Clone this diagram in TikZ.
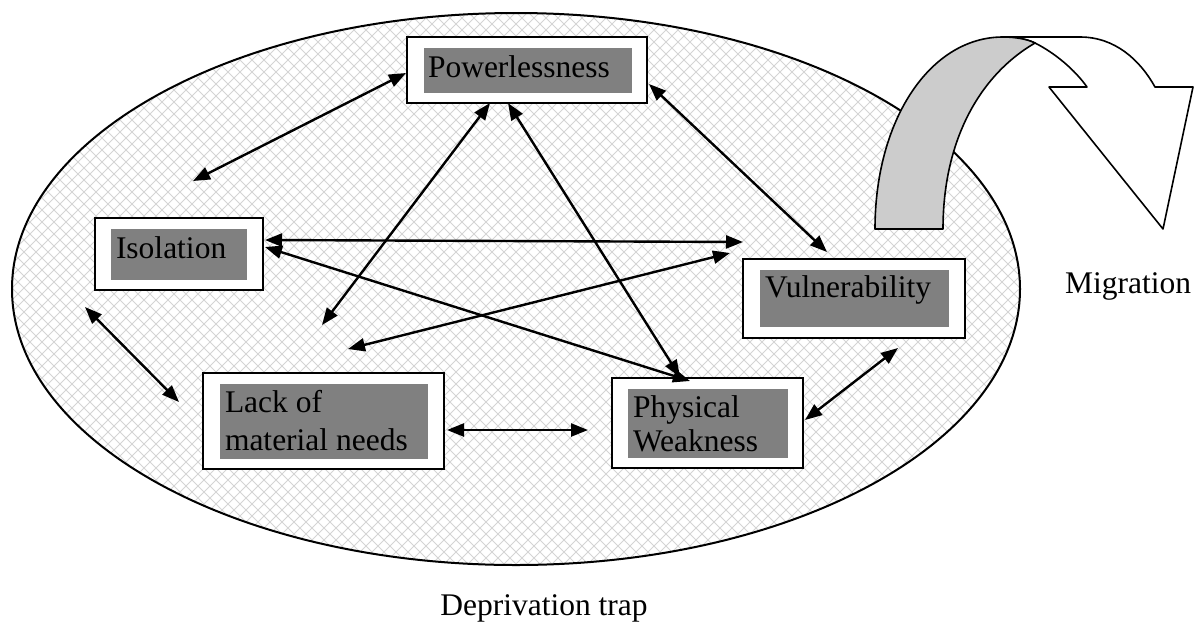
\documentclass[tikz,border=0pt]{standalone}
\usepackage{fontspec}
\setmainfont{Liberation Serif}
\usetikzlibrary{arrows.meta,calc}
\definecolor{boxgray}{HTML}{808080}
\definecolor{hatchgray}{HTML}{D4D4D4}
\definecolor{bandgray}{HTML}{CCCCCC}
\begin{document}
\begin{tikzpicture}[x=1pt,y=-1pt,
  outerbox/.style={draw=black, line width=2.2pt, fill=white, inner sep=0pt},
  graybox/.style={fill=boxgray, draw=none, inner sep=0pt},
  lbl/.style={font=\fontsize{31.5}{36}\selectfont, inner sep=0pt, anchor=base west, align=left},
  captext/.style={font=\fontsize{31.5}{36}\selectfont, inner sep=0pt},
  link/.style={line width=2.4pt, {Triangle[length=17pt,width=13pt]}-{Triangle[length=17pt,width=13pt]}},
  hatch/.style={draw=hatchgray, line width=0.9pt},
  shapeline/.style={draw=black, line width=1.6pt, line join=round}]
\useasboundingbox (0,0) rectangle (1195,622);

% ellipse with cross hatch
\begin{scope}
  \clip (516,289) ellipse [x radius=504, y radius=276];
  \foreach \c in {-600,-588,...,1200} {
    \draw[hatch] (\c,0) -- ++(640,640);
    \draw[hatch] (\c+600,0) -- ++(-640,640);
  }
\end{scope}
\draw[line width=2pt] (516,289) ellipse [x radius=504, y radius=276];

% migration arrow
\path[shapeline, fill=white] (1003,37) -- (1080,37) .. controls (1115,37) and (1140,60) .. (1155,87)
  -- (1193,87) -- (1163,229) -- (1049,87) -- (1087,87)
  .. controls (1075,70) and (1055,53) .. (1035,43)
  .. controls (1027,39) and (1015,37) .. (1003,37) -- cycle;
\path[shapeline, fill=bandgray] (875,229) .. controls (875,120) and (930,37) .. (1003,37)
  .. controls (1015,37) and (1027,39) .. (1035,43)
  .. controls (980,75) and (943,140) .. (943,229) -- cycle;

% boxes
\node[outerbox, minimum width=240pt, minimum height=66pt] (pw) at (527,70) {};
\node[graybox, minimum width=208pt, minimum height=45pt] (pwg) at (528,70.5) {};
\node[lbl] (pwt) at ($(pwg.north west)+(4,30)$) {Powerlessness};

\node[outerbox, minimum width=168pt, minimum height=72pt] (iso) at (179,254) {};
\node[graybox, minimum width=136pt, minimum height=51pt] (isog) at (179,254.5) {};
\node[lbl] (isot) at ($(isog.north west)+(5,30)$) {Isolation};

\node[outerbox, minimum width=222pt, minimum height=79pt] (vul) at (854,298.5) {};
\node[graybox, minimum width=189pt, minimum height=57pt] (vulg) at (854.5,298.5) {};
\node[lbl] (vult) at ($(vulg.north west)+(5,28)$) {Vulnerability};

\node[outerbox, minimum width=241pt, minimum height=96pt] (lack) at (323.5,421) {};
\node[graybox, minimum width=208pt, minimum height=75pt] (lackg) at (324,421.5) {};
\node[lbl, font=\fontsize{31.5}{38}\selectfont] (lackt) at ($(lackg.north west)+(5,67)$) {Lack of\\material needs};

\node[outerbox, minimum width=191pt, minimum height=90pt] (phys) at (707.5,423) {};
\node[graybox, minimum width=160pt, minimum height=69pt] (physg) at (708,423.5) {};
\node[lbl, font=\fontsize{31.5}{34}\selectfont] (physt) at ($(physg.north west)+(5,63)$) {Physical\\Weakness};

% connector end points
\coordinate (e1a) at (193,181);  \coordinate (e1b) at (406,73);
\coordinate (e2a) at (649,84);   \coordinate (e2b) at (827,252);
\coordinate (e3a) at (265,240);  \coordinate (e3b) at (743,242);
\coordinate (e4a) at (348,349);  \coordinate (e4b) at (730,253);
\coordinate (e5a) at (265,247);  \coordinate (e5b) at (690,381);
\coordinate (e6a) at (322,325);  \coordinate (e6b) at (490,103);
\coordinate (e7a) at (508,103);  \coordinate (e7b) at (680,377);
\coordinate (e8a) at (85,307);   \coordinate (e8b) at (179,402);
\coordinate (e9a) at (447,430);  \coordinate (e9b) at (588,430);
\coordinate (e10a) at (805,420); \coordinate (e10b) at (898,348);

\draw[link] (e1a) -- (e1b);
\draw[link] (e2a) -- (e2b);
\draw[link] (e3a) -- (e3b);
\draw[link] (e4a) -- (e4b);
\draw[link] (e5a) -- (e5b);
\draw[link] (e6a) -- (e6b);
\draw[link] (e7a) -- (e7b);
\draw[link] (e8a) -- (e8b);
\draw[link] (e9a) -- (e9b);
\draw[link] (e10a) -- (e10b);

% captions
\node[captext, anchor=base] (trap) at (544,615) {Deprivation trap};
\node[captext, anchor=base west] (mig) at (1065,293) {Migration};
\end{tikzpicture}
\end{document}
